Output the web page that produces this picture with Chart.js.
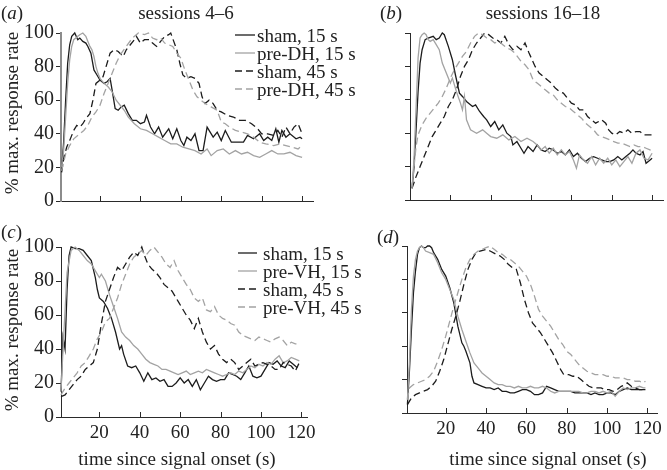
<!DOCTYPE html>
<html><head><meta charset="utf-8">
<script src="https://cdn.jsdelivr.net/npm/chart.js@4.4.1/dist/chart.umd.min.js"></script>
<style>
html,body{margin:0;padding:0;background:#fff;}
#wrap{position:relative;width:667px;height:470px;overflow:hidden;font-family:'Liberation Serif','Times New Roman',serif;color:#222;}
canvas{position:absolute;left:0;top:0;}
.t{position:absolute;white-space:nowrap;font-size:19px;line-height:19px;}
.c{transform:translate(-50%,-50%);}
.rot{transform:translate(-50%,-50%) rotate(-90deg);}
svg{position:absolute;}
</style></head><body>
<div id="wrap">
<canvas id="ca" width="667" height="470"></canvas>
<canvas id="cb" width="667" height="470"></canvas>
<canvas id="cc" width="667" height="470"></canvas>
<canvas id="cd" width="667" height="470"></canvas>
</div>
<script>
// ---------- data ----------
const xTicks = [20, 40, 60, 80, 100, 120];
const yTicks = [0, 20, 40, 60, 80, 100];
const labelsTop = ['sham, 15 s', 'pre-DH, 15 s', 'sham, 45 s', 'pre-DH, 45 s'];
const labelsBottom = ['sham, 15 s', 'pre-VH, 15 s', 'sham, 45 s', 'pre-VH, 45 s'];
const titleA = 'sessions 4\u20136';
const titleB = 'sessions 16\u201318';
const yTitle = '% max. response rate';
const xTitle = 'time since signal onset (s)';

// panel (a) sessions 4-6
const aSham15 = [[1,18],[2,35],[3,60],[4,82],[5,93],[6,98],[7.5,100],[9,96],[10,97],[11.5,95],[13,94],[14,92],[15.5,88],[17,78],[18.5,75],[20,72],[22,70],[23.5,71],[25,73],[26,66],[27.5,55],[29,54],[30.5,56],[32,57],[34,52],[36,48],[38,48],[40,46],[42,47],[43,51],[45,44],[47,40],[49,44],[51,38],[54,43],[56,37],[58,43],[60,36],[61.5,33],[63,38],[65,36],[67,40],[69,30],[71,30],[73,44],[76,38],[78,41],[80,36],[82,42],[85,35],[88,35],[91,35],[93,39],[96,37],[99,40],[101,36],[103,38],[105,36],[107,43],[108.5,35],[110,42],[112,38],[114,40],[117,37],[119,38],[120,37]];
const aPre15 = [[1,20],[2,30],[3,50],[4,70],[5,84],[6,92],[7,96],[8,97],[9,98],[10,99],[11.5,100],[13,98],[14,95],[15,92],[16,90],[17,86],[18,80],[19,76],[20,73],[22,70],[24,68],[26,65],[28,60],[30,57],[32,54],[34,50],[37,46],[40,43],[43,42],[46,40],[49,38],[52,36],[55,34],[58,34],[61,32],[64,31],[67,30],[70,28],[73,31],[75,27],[78,30],[81,31],[84,28],[87,30],[90,28],[93,29],[96,27],[99,26],[102,28],[105,30],[108,28],[111,28],[114,29],[117,27],[120,26]];
const aSham45 = [[1,17],[2,25],[3.5,32],[5,36],[7,42],[8.5,45],[10,44],[11.5,46],[13,49],[15,52],[16.5,60],[18,70],[20,72],[21.5,74],[23,80],[25,88],[27,90],[29,89],[31.5,86],[33,90],[35,93],[37,96],[38,98],[40,94],[42,96],[44.5,96],[46,94],[48,92],[50,95],[52,98],[54,99],[55,100],[56.5,95],[58,90],[59.5,82],[61,75],[63,73],[65,74],[67,73],[69,70],[70.5,62],[72,58],[74,60],[76,58],[78,54],[80,53],[83,51],[86,50],[89,48],[92,48],[95,46],[98,43],[100,40],[103,40],[106,39],[108,42],[110,38],[112,44],[114,40],[116,44],[118,46],[120,40]];
const aPre45 = [[1,18],[3,28],[5,33],[7,37],[10,40],[12,42],[14,45],[16,50],[18,53],[20,57],[22,64],[24,70],[26,76],[28,82],[30,87],[33,92],[36,97],[39,100],[42,99],[44,100],[46,97],[48,96],[50,97],[52,94],[54,93],[56,92],[58,88],[60,85],[62,78],[64,72],[66,66],[68,62],[70,60],[72,58],[75,56],[78,54],[80,47],[82,46],[84,44],[87,42],[90,41],[93,40],[96,38],[99,35],[102,34],[106,33],[109,34],[112,33],[115,32],[118,31],[120,33]];

// panel (b) sessions 16-18
const bSham15 = [[1,7],[2,20],[3,42],[4,65],[5,82],[6,90],[7.5,96],[9,97],[11.5,98],[13,96],[14.5,97],[16,100],[17,99],[19,92],[21,84],[22.5,75],[24.5,64],[26,62],[28,59],[31,56],[32.5,57],[34.5,53],[36.5,50],[38,48],[40,44],[42,47],[44,42],[46,45],[48,40],[50,38],[51,33],[53,35],[55,31],[56.5,28],[58.5,32],[61,29],[63,33],[65,30],[67,29],[69,31],[71,30],[73,28],[75,29],[77,27],[79,30],[81,26],[83,28],[85,25],[87,23],[89,25],[91,26],[93,25],[95,24],[97,23],[99,23],[101,24],[103,26],[105,24],[107,26],[109,28],[110.5,30],[112,28],[114,27],[115.5,29],[117,22],[119,24],[120,25]];
const bPre15 = [[1,7],[2,25],[3,55],[4,85],[5,97],[6,99],[7,100],[8,99],[9,96],[10,95],[11.5,96],[13,93],[14.5,90],[16,82],[18,76],[20,70],[21,73],[23,65],[25,58],[26,54],[27,62],[28,48],[30,42],[33,40],[36,42],[38,40],[40,38],[43,37],[46,39],[49,36],[52,38],[55,35],[58,37],[61,35],[63,33],[65,30],[67,32],[69,28],[71,31],[73,27],[75,30],[77,27],[79,29],[81,24],[82.5,19],[84,27],[86,24],[88,22],[90,26],[92,21],[94,25],[96,22],[98,25],[100,21],[102,24],[104,20],[106,23],[108,26],[110,22],[112,28],[114,30],[116,25],[118,24],[120,28]];
const bSham45 = [[1,7],[3,14],[5,20],[7,26],[9,32],[11,38],[13,42],[15,46],[17,50],[19,56],[21,60],[23,66],[25,74],[27,80],[29,84],[31,90],[33,94],[35,97],[37,100],[39,99],[41,97],[43,96],[45,94],[47,98],[49,93],[51,90],[53,92],[55,90],[57,94],[59,88],[60.5,84],[62,80],[64,76],[66,74],[68,72],[70,70],[72,67],[74,65],[76,64],[78,61],[80,58],[82,57],[84,54],[86,54],[88,50],[90,48],[92,46],[95,48],[97,46],[98.5,42],[100,40],[102,39],[104,41],[106,40],[108,42],[110,40],[112,41],[114,41],[116,39],[118,39],[120,39]];
const bPre45 = [[1,7],[2,20],[3,32],[4,39],[6,45],[8,49],[10,52],[12,55],[14,58],[16,62],[18,67],[20,73],[22,78],[24,82],[26,86],[28,89],[30,94],[32,98],[34,100],[36,99],[38,97],[40,96],[42,94],[44,95],[46,93],[48,91],[50,90],[52,88],[55,83],[57,81],[59,78],[61,72],[63,70],[65,68],[67,66],[69,64],[71,63],[73,60],[75,58],[77,56],[79,55],[81,53],[83,51],[85,49],[87,46],[89,44],[91,42],[93,39],[95,38],[97,37],[99,36],[101,35],[103,34],[105,34],[107,33],[109,32],[111,33],[113,32],[115,32],[117,31],[119,30],[120,31]];

// panel (c) sessions 4-6, ventral
const cSham15 = [[1,15],[2,47],[3,40],[4,75],[5,95],[6,100],[8,99],[10,99],[12,98],[14,95],[16,92],[18,82],[19,75],[20,70],[22,68],[24,64],[26,58],[28,50],[30,40],[31,42],[32,37],[34,30],[36,29],[38,30],[40,26],[42,21],[44,26],[46,22],[48,23],[50,21],[52,22],[54,18],[56,18],[58,20],[60,23],[62,20],[64,22],[66,18],[68,22],[70,16],[72,20],[74,24],[76,22],[78,21],[80,22],[82,22],[84,26],[86,25],[88,24],[90,22],[92,26],[94,30],[96,24],[98,23],[100,24],[102,28],[104,32],[106,31],[108,33],[110,30],[112,29],[114,33],[116,31],[118,29]];
const cPre15 = [[1,15],[2,40],[4,85],[6,98],[8,100],[10,98],[12,95],[14,92],[16,90],[18,86],[20,82],[21,84],[23,80],[25,72],[27,65],[29,58],[31,50],[33,47],[35,45],[37,42],[39,40],[41,37],[43,34],[45,32],[47,31],[49,30],[51,28],[53,28],[55,27],[57,26],[59,25],[61,26],[63,27],[65,25],[67,26],[69,27],[71,26],[73,28],[75,27],[77,26],[79,25],[81,24],[83,25],[85,26],[87,25],[89,27],[91,26],[93,28],[95,30],[97,29],[99,31],[101,30],[103,32],[105,31],[107,34],[109,36],[111,32],[113,33],[115,35],[117,34],[119,33]];
const cSham45 = [[1,12],[3,13],[5,16],[7,19],[9,22],[11,24],[13,28],[15,30],[17,32],[19,40],[21,55],[23,68],[25,75],[27,82],[29,88],[31,86],[33,90],[35,94],[37,97],[39,95],[41,100],[42,96],[44,90],[46,87],[48,85],[50,82],[52,78],[54,76],[56,74],[57,72],[59,68],[61,64],[63,60],[65,57],[67,52],[69,58],[71,50],[73,44],[75,40],[77,42],[79,37],[81,34],[83,32],[85,34],[87,32],[89,28],[91,30],[93,32],[95,34],[97,30],[99,31],[101,32],[103,31],[105,30],[107,28],[109,28],[111,32],[113,31],[115,30],[117,27],[119,32]];
const cPre45 = [[1,13],[3,17],[5,20],[7,23],[9,26],[11,30],[13,32],[15,36],[17,40],[19,46],[21,50],[23,56],[25,58],[27,64],[29,70],[31,78],[33,84],[35,90],[37,94],[39,96],[41,98],[43,95],[45,98],[47,100],[49,97],[51,94],[53,90],[55,88],[57,92],[59,86],[61,82],[63,78],[65,75],[67,70],[69,68],[71,70],[73,63],[75,62],[77,65],[79,60],[81,58],[83,57],[85,55],[87,54],[89,50],[91,48],[93,47],[95,46],[97,45],[99,47],[101,46],[103,45],[105,44],[107,46],[109,47],[111,45],[113,42],[115,44],[117,43],[119,43]];

// panel (d) sessions 16-18, ventral
const dSham15 = [[1,5],[2,25],[3,50],[4,72],[5,85],[6,95],[7,99],[8,100],[9,99],[10,99],[11,100],[12,100],[13,99],[14,96],[16,92],[18,86],[20,82],[22,75],[24,66],[26,52],[28,42],[29,40],[30,37],[32,30],[33,22],[34,18],[36,17],[38,16],[40,15],[42,15],[44,14],[46,15],[48,13],[50,13],[52,12],[54,12],[56,13],[58,14],[60,14],[62,13],[64,11],[66,11],[68,12],[70,16],[72,15],[74,14],[76,13],[78,13],[80,13],[82,13],[84,12],[86,12],[88,12],[90,12],[92,11],[94,12],[96,11],[98,11],[100,12],[102,12],[104,11],[106,13],[108,14],[110,15],[112,14],[114,14],[116,14],[118,14],[119,14]];
const dPre15 = [[1,8],[2,30],[3,62],[4,82],[5,92],[6,97],[7,99],[8,100],[9,99],[10,97],[12,96],[14,95],[16,90],[18,84],[20,80],[22,74],[24,68],[26,58],[28,50],[30,43],[32,36],[34,30],[36,27],[38,24],[40,22],[42,20],[44,18],[46,17],[48,17],[50,16],[52,16],[54,15],[56,16],[58,15],[60,15],[62,16],[64,15],[66,15],[68,16],[70,15],[72,13],[74,12],[76,13],[78,13],[80,13],[82,13],[84,13],[86,13],[88,12],[90,12],[92,13],[94,13],[96,12],[98,13],[100,12],[102,13],[104,10],[106,13],[108,15],[110,14],[112,15],[114,15],[116,16],[118,15],[119,15]];
const dSham45 = [[1,5],[3,9],[5,11],[7,12],[9,13],[11,14],[13,16],[15,19],[17,25],[19,32],[21,41],[23,50],[25,58],[27,67],[29,77],[31,86],[33,92],[35,96],[37,97],[40,98],[42,97],[45,95],[47,94],[49,92],[51,89],[53,87],[55,86],[57,78],[59,68],[61,60],[63,54],[65,51],[67,48],[69,44],[71,40],[73,36],[75,31],[77,26],[78.5,23],[81,23],[83,22],[85,22],[87,20],[89,18],[91,16],[93,15],[95,15],[97,15],[99,14],[101,14],[103,13],[105,14],[107,16],[109,17],[110,18],[112,16],[114,15],[116,14],[118,14],[119,14]];
const dPre45 = [[1,8],[2,15],[4,17],[6,18],[8,19],[10,20],[12,22],[14,25],[16,31],[18,38],[20,46],[22,55],[24,64],[26,72],[28,80],[30,87],[32,92],[34,95],[36,97],[38,98],[40,99],[42,100],[44,98],[46,96],[48,95],[50,93],[52,92],[54,90],[56,88],[58,85],[60,82],[62,77],[64,70],[66,62],[68,58],[70,55],[72,52],[74,48],[76,44],[78,41],[80,37],[82,35],[84,32],[86,29],[88,27],[90,25],[92,24],[94,23],[96,23],[98,23],[100,22],[102,22],[104,21],[106,21],[108,21],[110,20],[112,20],[114,19],[116,19],[118,18],[119,19]];

// ---------- style ----------
const BLACK = '#1c1c1c', GREY = '#a3a3a3', AXIS = '#2a2a2a';
const DASH = [7, 4];
const styles = [
  {color: BLACK, dash: []},
  {color: GREY, dash: []},
  {color: BLACK, dash: DASH},
  {color: GREY, dash: DASH}
];
const W = 667, H = 470, YW = 40, XH = 40;

Chart.defaults.font.family = "'Liberation Serif','Times New Roman',serif";
Chart.defaults.color = '#222';

const innerTicks = {
  id: 'innerTicks',
  afterDraw(chart) {
    const xs = chart.scales.x, ctx = chart.ctx, b = chart.chartArea.bottom;
    ctx.save();
    ctx.strokeStyle = AXIS; ctx.lineWidth = 1;
    xs.ticks.forEach(t => {
      const px = Math.round(xs.getPixelForValue(t.value)) + 0.5;
      ctx.beginPath(); ctx.moveTo(px, b); ctx.lineTo(px, b - 5); ctx.stroke();
    });
    ctx.restore();
  }
};

function makePanel(id, box, xmin, xmax, yLabels, xLabels, series, yAxisColor, yAxisWidth) {
  new Chart(document.getElementById(id), {
    type: 'line',
    data: {
      datasets: series.map((s, i) => ({
        data: s.map(p => ({x: p[0], y: p[1]})),
        borderColor: styles[i].color,
        borderDash: styles[i].dash,
        borderWidth: 1.3,
        pointRadius: 0,
        tension: 0,
        fill: false,
        clip: false
      })).reverse()
    },
    plugins: [innerTicks],
    options: {
      responsive: false,
      animation: false,
      events: [],
      layout: {padding: {left: box.l - YW, right: W - box.r, top: box.t, bottom: H - box.b - XH}},
      plugins: {legend: {display: false}, tooltip: {enabled: false}, title: {display: false}},
      scales: {
        x: {
          type: 'linear', min: xmin, max: xmax,
          afterFit: s => { s.height = XH; },
          afterBuildTicks: s => { s.ticks = xTicks.map(v => ({value: v})); },
          grid: {display: false, drawTicks: false},
          border: {display: true, color: AXIS, width: 1},
          ticks: {display: xLabels, padding: 5, color: '#222', font: {size: 19}, maxRotation: 0, autoSkip: false,
                  callback: v => String(v)}
        },
        y: {
          type: 'linear', min: 0, max: 100,
          afterFit: s => { s.width = YW; },
          afterBuildTicks: s => { s.ticks = yTicks.map(v => ({value: v})); },
          grid: {display: true, drawOnChartArea: false, drawTicks: true, tickLength: 5, color: AXIS, lineWidth: 1},
          border: {display: true, color: yAxisColor, width: yAxisWidth},
          ticks: {padding: 2, color: '#222', font: {size: 20}, autoSkip: false,
                  callback: v => yLabels ? String(v) : ''}
        }
      }
    }
  });
}

makePanel('ca', {l: 61, r: 313, t: 33, b: 201}, 0.7, 125.4, true, false, [aSham15, aPre15, aSham45, aPre45], '#8c8c8c', 2);
makePanel('cb', {l: 410, r: 663, t: 33, b: 200}, 0, 125.4, false, false, [bSham15, bPre15, bSham45, bPre45], AXIS, 1);
makePanel('cc', {l: 61, r: 307, t: 247, b: 417}, 1, 122.8, true, true, [cSham15, cPre15, cSham45, cPre45], AXIS, 1);
makePanel('cd', {l: 407, r: 660, t: 246, b: 413}, 0.8, 125.2, false, true, [dSham15, dPre15, dSham45, dPre45], AXIS, 1);

// ---------- text ----------
const wrap = document.getElementById('wrap');
function addText(html, x, y, cls) {
  const d = document.createElement('div');
  d.className = 't ' + (cls || '');
  d.style.left = x + 'px'; d.style.top = y + 'px';
  d.innerHTML = html;
  wrap.appendChild(d);
  return d;
}
function addLeftText(html, x, y) {
  const d = addText(html, x, y, '');
  d.style.transform = 'translateY(-50%)';
  return d;
}
addLeftText('(<i>a</i>)', 1, 12);
addLeftText('(<i>b</i>)', 380, 12);
addLeftText('(<i>c</i>)', 1, 231);
addLeftText('(<i>d</i>)', 377, 236);
addText(titleA, 186, 12, 'c');
addText(titleB, 543, 12, 'c');
addText(yTitle, 11, 113, 'rot');
addText(yTitle, 11, 330, 'rot');
addText(xTitle, 177, 458, 'c');
addText(xTitle, 548, 458, 'c');

function addLegend(labels, x0, x1, tx, ys) {
  labels.forEach((lab, i) => {
    const svg = document.createElementNS('http://www.w3.org/2000/svg', 'svg');
    svg.setAttribute('width', x1 - x0); svg.setAttribute('height', 4);
    svg.style.left = x0 + 'px'; svg.style.top = (ys[i] - 2) + 'px';
    const ln = document.createElementNS('http://www.w3.org/2000/svg', 'line');
    ln.setAttribute('x1', 0); ln.setAttribute('x2', x1 - x0);
    ln.setAttribute('y1', 2); ln.setAttribute('y2', 2);
    ln.setAttribute('stroke', styles[i].color); ln.setAttribute('stroke-width', 1.3);
    if (styles[i].dash.length) ln.setAttribute('stroke-dasharray', styles[i].dash.join(','));
    svg.appendChild(ln);
    wrap.appendChild(svg);
    addLeftText(lab, tx, ys[i]);
  });
}
addLegend(labelsTop, 235, 255, 257, [35, 53, 71, 89]);
addLegend(labelsBottom, 238, 257, 263, [253, 271, 289, 307]);
</script>
</body></html>
